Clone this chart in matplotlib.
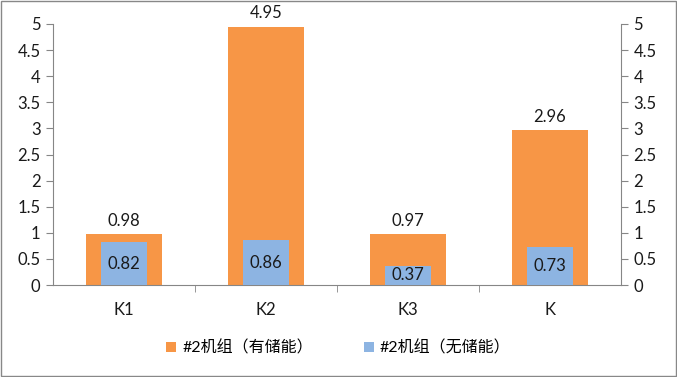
import matplotlib
matplotlib.use('Agg')
import matplotlib.pyplot as plt
from matplotlib.patches import Rectangle
import numpy as np

plt.rcParams['font.family'] = ['Lato', 'Noto Sans CJK SC', 'DejaVu Sans']

categories = ['K1', 'K2', 'K3', 'K']
with_storage = [0.98, 4.95, 0.97, 2.96]
without_storage = [0.82, 0.86, 0.37, 0.73]
series_names = ['#2机组（有储能）', '#2机组（无储能）']

orange = '#F79646'
blue = '#8DB4E2'
grey = '#868686'

fig = plt.figure(figsize=(6.77, 3.77), dpi=100)
ax = fig.add_axes([53 / 677, 1 - 285 / 377, 568 / 677, 261 / 377])

x = np.arange(len(categories))
b1 = ax.bar(x, with_storage, width=0.53, color=orange, label=series_names[0], zorder=2)
b2 = ax.bar(x, without_storage, width=0.33, color=blue, label=series_names[1], zorder=3)

for xi, v in zip(x, with_storage):
    ax.text(xi, v + 0.1, f'{v:.2f}', ha='center', va='bottom', fontsize=12,
            color='#1a1a1a', clip_on=False)
for xi, v in zip(x, without_storage):
    ax.text(xi, v / 2, f'{v:.2f}', ha='center', va='center', fontsize=12, color='#1a1a1a', zorder=4)

ticks = np.arange(0, 5.01, 0.5)
ax.set_xlim(-0.5, len(categories) - 0.5)
ax.set_ylim(0, 5)
ax.set_yticks(ticks)
ax.set_yticklabels([f'{t:g}' for t in ticks])
ax.set_xticks(x)
ax.set_xticklabels(categories)
ax.set_xticks(np.arange(0.5, len(categories) - 0.5, 1), minor=True)
ax.tick_params(axis='x', which='major', length=0, pad=12, labelsize=12, labelcolor='#1a1a1a')
ax.tick_params(axis='x', which='minor', length=5, color=grey, direction='out')
ax.tick_params(axis='y', length=5, color=grey, labelsize=12, pad=4, labelcolor='#1a1a1a')

for s in ['top', 'right']:
    ax.spines[s].set_visible(False)
for s in ['left', 'bottom']:
    ax.spines[s].set_color(grey)

ax2 = ax.twinx()
ax2.set_ylim(0, 5)
ax2.set_yticks(ticks)
ax2.set_yticklabels([f'{t:g}' for t in ticks])
ax2.tick_params(axis='y', length=5, color=grey, labelsize=12, pad=4, labelcolor='#1a1a1a')
for s in ['top', 'left', 'bottom']:
    ax2.spines[s].set_visible(False)
ax2.spines['right'].set_color(grey)

fig.legend(handles=[b1, b2], labels=series_names, loc='center', bbox_to_anchor=(0.5, 1 - 348 / 377),
           ncol=2, frameon=False, fontsize=11.5, handlelength=0.6, handleheight=0.6,
           columnspacing=3.2, handletextpad=0.4)

fig.patches.append(Rectangle((0.002, 0.003), 0.996, 0.994, transform=fig.transFigure,
                             fill=False, edgecolor='#888888', linewidth=1))

fig.savefig('out.png', dpi=100)
